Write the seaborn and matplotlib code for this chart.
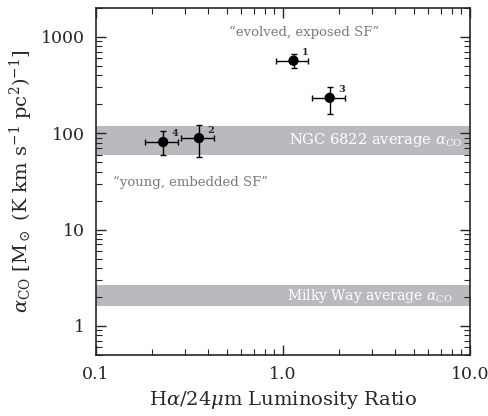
import numpy as np
import pandas as pd
import matplotlib
matplotlib.use("Agg")
import matplotlib.pyplot as plt
import seaborn as sns
from matplotlib.ticker import FixedLocator, FixedFormatter, NullFormatter

# region data
region_ids = ["1", "2", "3", "4"]
ha_24_ratio = [1.14, 0.356, 1.78, 0.229]
ratio_lo = [0.914, 0.285, 1.435, 0.184]
ratio_hi = [1.365, 0.429, 2.15, 0.275]
alpha_co = [566, 89, 233, 81]
alpha_lo = [472, 56, 160, 60]
alpha_hi = [660, 121, 304, 105]

# average alpha_CO ranges
ngc6822_band = [60, 118]
milky_way_band = [1.6, 2.65]

x_ticks = [0.1, 1.0, 10.0]
x_tick_labels = ["0.1", "1.0", "10.0"]
y_ticks = [1, 10, 100, 1000]
y_tick_labels = ["1", "10", "100", "1000"]

sns.set_style("ticks")
plt.rcParams["font.family"] = ["DejaVu Serif"]
plt.rcParams["mathtext.fontset"] = "dejavuserif"

df = pd.DataFrame({"region": region_ids, "ratio": ha_24_ratio, "alpha": alpha_co})

fig = plt.figure(figsize=(4.89, 4.16), dpi=100)
ax = fig.add_axes([0.196, 0.147, 0.765, 0.834])

band_col = "#b9babd"
ax.axhspan(*ngc6822_band, color=band_col, lw=0, zorder=0)
ax.axhspan(*milky_way_band, color=band_col, lw=0, zorder=0)

xerr = [np.array(ha_24_ratio) - np.array(ratio_lo), np.array(ratio_hi) - np.array(ha_24_ratio)]
yerr = [np.array(alpha_co) - np.array(alpha_lo), np.array(alpha_hi) - np.array(alpha_co)]
ax.errorbar(ha_24_ratio, alpha_co, xerr=xerr, yerr=yerr, fmt="none",
            ecolor="black", elinewidth=1.0, capsize=2.5, capthick=1.0, zorder=2)
sns.scatterplot(data=df, x="ratio", y="alpha", color="black", s=55,
                edgecolor="none", ax=ax, zorder=3)

for _, row in df.iterrows():
    ax.annotate(row["region"], (row["ratio"], row["alpha"]), xytext=(6, 4),
                textcoords="offset points", fontsize=7, fontweight="bold")

ax.set_xscale("log")
ax.set_yscale("log")
ax.set_xlim(0.1, 10.0)
ax.set_ylim(0.5, 2000)

ax.xaxis.set_major_locator(FixedLocator(x_ticks))
ax.xaxis.set_major_formatter(FixedFormatter(x_tick_labels))
ax.yaxis.set_major_locator(FixedLocator(y_ticks))
ax.yaxis.set_major_formatter(FixedFormatter(y_tick_labels))
ax.xaxis.set_minor_formatter(NullFormatter())
ax.yaxis.set_minor_formatter(NullFormatter())
ax.tick_params(which="both", direction="in", top=True, right=True, labelsize=12.5, pad=8)
ax.tick_params(which="major", length=7, width=1)
ax.tick_params(which="minor", length=4, width=0.8)
for sp in ax.spines.values():
    sp.set_linewidth(1.2)

ax.set_xlabel(r"H$\alpha$/24$\mu$m Luminosity Ratio", fontsize=14, labelpad=4)
ax.set_ylabel(r"$\alpha_{\rm CO}$ [$\mathrm{M}_\odot$ (K km s$^{-1}$ pc$^2$)$^{-1}$]",
              fontsize=14, labelpad=4)

ax.text(0.556, 0.93, "\u201cevolved, exposed SF\u201d", transform=ax.transAxes,
        ha="center", va="center", color="#7a7a7a", fontsize=9.5)
ax.text(0.045, 0.496, "\u201cyoung, embedded SF\u201d", transform=ax.transAxes,
        ha="left", va="center", color="#7a7a7a", fontsize=9.5)
ax.text(0.981, np.sqrt(ngc6822_band[0] * ngc6822_band[1]), r"NGC 6822 average $\alpha_{\rm CO}$",
        transform=ax.get_yaxis_transform(), ha="right", va="center", color="white", fontsize=10.5)
ax.text(0.952, np.sqrt(milky_way_band[0] * milky_way_band[1]), r"Milky Way average $\alpha_{\rm CO}$",
        transform=ax.get_yaxis_transform(), ha="right", va="center", color="white", fontsize=10)

fig.savefig("out.png", dpi=100)
